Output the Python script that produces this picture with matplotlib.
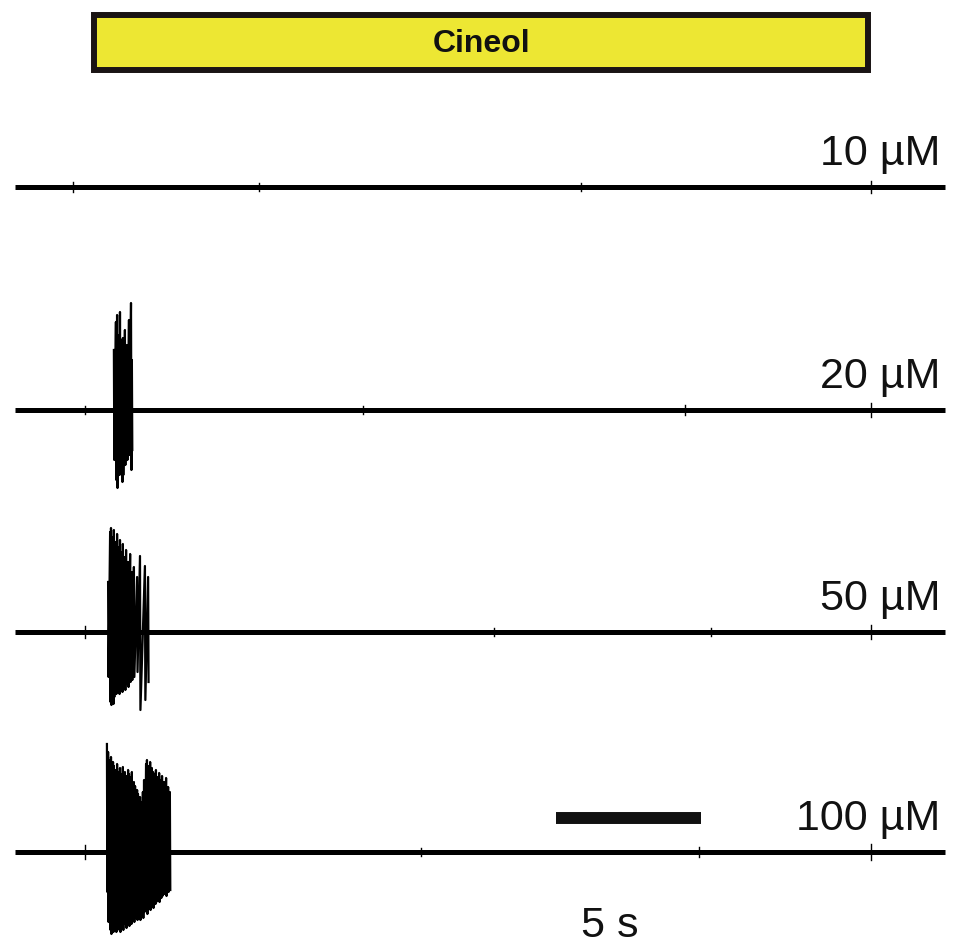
import matplotlib
matplotlib.use("Agg")
import matplotlib.pyplot as plt
from matplotlib.patches import Rectangle

plt.rcParams['font.family'] = ['Liberation Sans', 'DejaVu Sans']

# recording layout (time in s, voltage in arbitrary uV-like units)
trace_labels = ["10 µM", "20 µM", "50 µM", "100 µM"]
trace_offsets = [0, -223, -445, -665]
trace_end = 32.07

cineol_start = 2.71
cineol_end = 29.41

# small noise blips on the baseline (time, amplitude)
blip_times = [
    [2.0, 8.4, 19.5, 29.5],
    [2.4, 12.0, 23.1, 29.5],
    [2.4, 16.5, 24.0, 29.5],
    [2.4, 14.0, 23.6, 29.5],
]
blip_amps = [
    [5, 4, 4, 6],
    [4, 4, 5, 7],
    [6, 4, 4, 7],
    [7, 4, 5, 8],
]

# spike bursts: times, upward and downward peak amplitudes
burst_times = [
    [],
    [3.41, 3.48, 3.52, 3.59, 3.62, 3.69, 3.72, 3.79, 3.86, 3.93, 4.00, 4.03],
    [3.21, 3.28, 3.31, 3.38, 3.41, 3.48, 3.52, 3.59, 3.62, 3.69, 3.72, 3.79,
     3.83, 3.90, 3.97, 4.03, 4.10, 4.21, 4.31, 4.48, 4.59],
    [3.17, 3.21, 3.28, 3.31, 3.38, 3.41, 3.48, 3.52, 3.59, 3.62, 3.69, 3.72,
     3.79, 3.83, 3.90, 3.93, 4.00, 4.03, 4.10, 4.14, 4.21, 4.24, 4.31, 4.34,
     4.41, 4.45, 4.52, 4.55, 4.62, 4.66, 4.72, 4.76, 4.83, 4.86, 4.93, 4.97,
     5.03, 5.07, 5.14, 5.21, 5.28, 5.34],
]
burst_up = [
    [],
    [60, 88, 95, 75, 98, 70, 72, 80, 65, 90, 107, 50],
    [50, 100, 104, 95, 102, 90, 98, 85, 92, 80, 88, 75, 82, 70, 78, 60, 65,
     55, 76, 66, 55],
    [108, 100, 92, 95, 90, 86, 82, 88, 80, 84, 78, 85, 80, 76, 82, 78, 75,
     80, 70, 66, 62, 58, 55, 50, 60, 72, 88, 92, 86, 90, 84, 80, 78, 82, 75,
     79, 72, 76, 70, 74, 65, 60],
]
burst_down = [
    [],
    [50, 70, 78, 65, 60, 72, 65, 55, 50, 45, 60, 40],
    [45, 70, 73, 72, 65, 62, 60, 62, 58, 60, 55, 58, 52, 55, 50, 48, 45,
     40, 78, 68, 50],
    [40, 70, 78, 82, 80, 76, 80, 78, 75, 80, 74, 78, 72, 76, 70, 74, 72,
     68, 70, 66, 68, 64, 68, 62, 66, 60, 58, 62, 56, 58, 54, 56, 52, 50, 48,
     50, 46, 44, 42, 44, 40, 38],
]

scalebar_start = 18.66
scalebar_len = 5
scalebar_label = "5 s"

fig = plt.figure(figsize=(9.56, 9.47), dpi=100)
ax = fig.add_axes([0, 0, 1, 1])
ax.set_xlim(-15 / 29, (956 - 15) / 29)
ax.set_ylim(-760, 187)
ax.axis("off")

# stimulus bar
box = Rectangle((cineol_start, 117), cineol_end - cineol_start, 55,
                facecolor="#ede733", edgecolor="#1a1414", linewidth=4.3)
ax.add_patch(box)
ax.text(16.1, 143, "Cineol", ha="center", va="center", fontsize=23,
        fontweight="bold", color="#111111")

for i, off in enumerate(trace_offsets):
    # baseline
    ax.plot([0, trace_end], [off, off], color="black", linewidth=3.6,
            solid_capstyle="butt")
    for t, a in zip(blip_times[i], blip_amps[i]):
        ax.plot([t, t], [off - a, off + a], color="black", linewidth=1.0)
    # burst as alternating up/down excursions
    if burst_times[i]:
        xs, ys = [], []
        for t, u, d in zip(burst_times[i], burst_up[i], burst_down[i]):
            xs += [t, t + 0.015]
            ys += [off + u, off - d]
        ax.plot(xs, ys, color="black", linewidth=1.6)
    ax.text(31.9, off + 22, trace_labels[i], ha="right", va="baseline",
            fontsize=31, color="#111111")

# time scale bar
sb_y = trace_offsets[3] + 34
ax.plot([scalebar_start, scalebar_start + scalebar_len], [sb_y, sb_y],
        color="#111111", linewidth=8.6, solid_capstyle="butt")
ax.text(20.5, trace_offsets[3] - 85, scalebar_label, ha="center",
        va="baseline", fontsize=31, color="#111111")

fig.savefig("out.png", dpi=100, facecolor="white")
